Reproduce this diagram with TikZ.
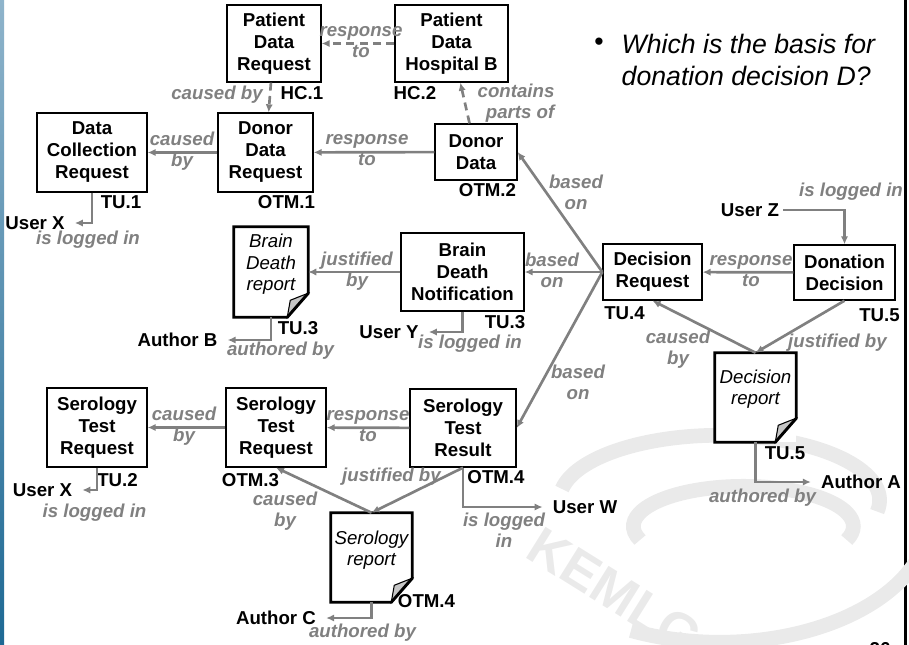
\documentclass[tikz,border=0pt]{standalone}
\usepackage{fontspec}
\setmainfont{Liberation Sans}
\usetikzlibrary{arrows.meta,calc}

\definecolor{linkgray}{RGB}{128,128,128}
\definecolor{striptop}{RGB}{143,180,203}
\definecolor{stripbot}{RGB}{30,105,148}
\definecolor{wmgray}{RGB}{234,234,234}

% outline of a report with a folded corner, drawn round a named node
\newcommand{\reportshape}[1]{%
  \filldraw[fill=gray!45, line width=0.8pt] ($(#1.south east)+(0,-24)$)
    .. controls ($(#1.south east)+(-8,-21)$) .. ($(#1.south east)+(-18,-17)$)
    .. controls ($(#1.south east)+(-20,-8)$) .. ($(#1.south east)+(-21,0)$) -- cycle;
  \draw[line width=2.2pt] (#1.north west) -- (#1.north east)
    -- ($(#1.south east)+(0,-24)$) -- ($(#1.south east)+(-21,0)$)
    -- (#1.south west) -- cycle;}

\begin{document}
\begin{tikzpicture}[x=0.75pt, y=-0.75pt,
    entity/.style={draw, line width=1pt, fill=white, align=center, inner sep=0pt,
      font=\fontsize{14}{16.5}\selectfont\bfseries},
    report/.style={fill=white, inner sep=0pt},
    reptext/.style={align=center, inner sep=0pt, font=\fontsize{14}{16}\selectfont\itshape},
    tag/.style={inner sep=0pt, font=\fontsize{14}{16}\selectfont\bfseries},
    rel/.style={inner sep=0pt, align=center, text=linkgray,
      font=\fontsize{14}{16}\selectfont\bfseries\itshape},
    link/.style={draw=linkgray, line width=2pt, -{Latex[length=6pt,width=5.5pt]}},
    tolink/.style={link, shorten >=7.5pt},
    dashlink/.style={link, dash pattern=on 6pt off 4pt}]
  \useasboundingbox (0,0) rectangle (909,645);
  % slide frame
  \shade[top color=striptop, bottom color=stripbot] (0,0) rectangle (4,645);
  \fill (904,0) rectangle (907,645);
  % watermark
  \begin{scope}[draw=wmgray, line width=11pt]
    \draw (562,489) arc[start angle=190, end angle=370, x radius=160, y radius=65];
    \draw (640,540) arc[start angle=160, end angle=380, x radius=110, y radius=40];
    \draw (917,560) arc[start angle=20, end angle=115, x radius=210, y radius=125];
  \end{scope}
  \node[rotate=-32, text=wmgray, font=\fontsize{40}{40}\selectfont\bfseries] (kemlg) at (615,592) {KEMLG};
  \node[tag] (pageno) at (880,649) {26};

  % question
  \node[font=\fontsize{20}{24}\selectfont] (dot) at (599,44) {\textbullet};
  \node[anchor=north west, align=left, font=\fontsize{20}{24}\selectfont\itshape] (question) at (617,29)
    {Which is the basis for\\donation decision D?};

  % hospital side
  \node[entity, minimum width=70.5pt, minimum height=57.75pt] (pdr) at (274,43.5) {Patient\\Data\\Request};
  \node[entity, minimum width=84.75pt, minimum height=57.75pt] (pdh) at (451.5,43.5) {Patient\\Data\\Hospital B};
  \node[tag] (hc1) at (302,93) {HC.1};
  \node[tag] (hc2) at (415,93) {HC.2};

  % donor data
  \node[entity, minimum width=82.5pt, minimum height=59.25pt] (dcr) at (92,152.5) {Data\\Collection\\Request};
  \node[entity, minimum width=71.25pt, minimum height=59.25pt] (ddr) at (265.5,152.5) {Donor\\Data\\Request};
  \node[entity, minimum width=61.5pt, minimum height=42pt] (dd) at (476,152) {Donor\\Data};
  \node[tag] (tu1) at (121,202) {TU.1};
  \node[tag] (otm1) at (286.5,202) {OTM.1};
  \node[tag] (otm2) at (487.5,190) {OTM.2};
  \node[tag] (userx) at (35,223) {User X};

  % brain death
  \node[report, minimum width=55.5pt, minimum height=67.5pt] (bdrep) at (271,272) {};
  \reportshape{bdrep}
  \node[reptext] (bdreptext) at (271,264.5) {Brain\\Death\\report};
  \node[entity, minimum width=92.25pt, minimum height=58.5pt] (bdn) at (462.5,272) {Brain\\Death\\Notification};
  \node[tag] (tu3a) at (298,328) {TU.3};
  \node[tag] (tu3b) at (505,322) {TU.3};
  \node[tag] (authorb) at (177.5,340) {Author B};
  \node[tag] (usery) at (389,332) {User Y};

  % decision
  \node[entity, minimum width=74.25pt, minimum height=42pt] (dr) at (652.5,272) {Decision\\Request};
  \node[entity, minimum width=75.75pt, minimum height=41.25pt] (dod) at (844.5,272.5) {Donation\\Decision};
  \node[tag] (tu4) at (624.5,313) {TU.4};
  \node[tag] (tu5a) at (879.5,315) {TU.5};
  \node[tag] (userz) at (750,210) {User Z};
  \node[report, minimum width=60.75pt, minimum height=66.75pt] (decrep) at (755.5,397.5) {};
  \reportshape{decrep}
  \node[reptext] (decreptext) at (755.5,389.5) {Decision\\report};
  \node[tag] (tu5b) at (785,453) {TU.5};
  \node[tag] (authora) at (861,482) {Author A};

  % serology
  \node[entity, minimum width=75pt, minimum height=59.25pt] (sreqa) at (97,427.5) {Serology\\Test\\Request};
  \node[entity, minimum width=75pt, minimum height=59.25pt] (sreqb) at (276,427.5) {Serology\\Test\\Request};
  \node[entity, minimum width=79.5pt, minimum height=58.5pt] (sres) at (463,428) {Serology\\Test\\Result};
  \node[tag] (tu2) at (117.5,480) {TU.2};
  \node[tag] (otm3) at (250.5,480) {OTM.3};
  \node[tag] (otm4a) at (496,477) {OTM.4};
  \node[tag] (userx2) at (42.5,490) {User X};
  \node[tag] (userw) at (585,507) {User W};
  \node[report, minimum width=60.75pt, minimum height=66.75pt] (serrep) at (371.5,557.5) {};
  \reportshape{serrep}
  \node[reptext] (serreptext) at (371.5,550) {Serology\\report};
  \node[tag] (otm4b) at (426.5,601) {OTM.4};
  \node[tag] (authorc) at (276,618) {Author C};

  % connectors
  \draw[dashlink] (pdh) -- (pdr);
  \draw[dashlink] (pdr) -- (ddr);
  \draw[dashlink] (dd) -- (pdh);
  \draw[link] (ddr) -- (dcr);
  \draw[link] (dd) -- (ddr);
  \draw[link] (bdn) -- (bdrep);
  \draw[link] (dod) -- (dr);
  \draw[link] (sreqb) -- (sreqa);
  \draw[link] (sres) -- (sreqb);
  \draw[link] (dr.west) -- (dd.east);
  \draw[link] (dr.west) -- (bdn.east);
  \draw[link] (dr.west) -- (sres.east);
  \draw[link] (decrep.north) -- (dr.south);
  \draw[link] (dod.south) -- (decrep.north);
  \draw[link] (serrep.north) -- (sreqb.south);
  \draw[link] (sres.south) -- (serrep.north);
  \draw[tolink] (dcr.south) |- (userx.east);
  \draw[tolink] (sreqa.south) |- (userx2.east);
  \draw[tolink] (bdn.south) |- (usery.east);
  \draw[tolink] (sres.south) |- (userw.west);
  \draw[tolink] (bdrep.south) |- (authorb.east);
  \draw[tolink] (decrep.south) |- (authora.west);
  \draw[tolink] (serrep.south) |- (authorc.east);
  \draw[link, shorten <=3pt] (userz.east) -| (dod.north);

  % connector labels
  \node[rel] (l1) at (361,42) {response\\to};
  \node[rel] (l2) at (217,95) {caused by};
  \node[rel, align=right] (l3) at (516,103) {contains\\parts of};
  \node[rel] (l4) at (182,151) {caused\\by};
  \node[rel] (l5) at (367,150) {response\\to};
  \node[rel] (l6) at (88,240) {is logged in};
  \node[rel] (l7) at (576,192) {based\\on};
  \node[rel] (l8) at (851,192) {is logged in};
  \node[rel] (l9) at (357,271) {justified\\by};
  \node[rel] (l10) at (280.5,351) {authored by};
  \node[rel] (l11) at (470,344) {is logged in};
  \node[rel] (l12) at (552,270) {based\\on};
  \node[rel] (l13) at (751,271) {response\\to};
  \node[rel] (l14) at (678,349) {caused\\by};
  \node[rel] (l15) at (837.5,343) {justified by};
  \node[rel] (l16) at (578,382) {based\\on};
  \node[rel] (l17) at (762.5,498) {authored by};
  \node[rel] (l18) at (184,426) {caused\\by};
  \node[rel] (l19) at (94.5,513) {is logged in};
  \node[rel] (l20) at (368,426) {response\\to};
  \node[rel] (l21) at (391.5,477) {justified by};
  \node[rel] (l22) at (285,511) {caused\\by};
  \node[rel] (l23) at (504,530) {is logged\\in};
  \node[rel] (l24) at (362.5,633) {authored by};
\end{tikzpicture}
\end{document}
